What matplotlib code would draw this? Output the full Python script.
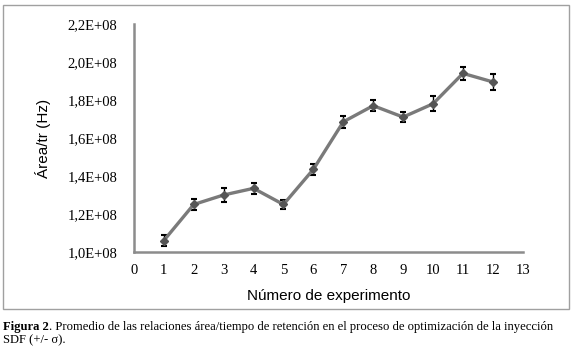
import matplotlib
matplotlib.use("Agg")
import matplotlib.pyplot as plt
from matplotlib.patches import Rectangle

experiments = [1, 2, 3, 4, 5, 6, 7, 8, 9, 10, 11, 12]
area_tr = [1.06e8, 1.25e8, 1.30e8, 1.335e8, 1.25e8, 1.435e8, 1.685e8, 1.77e8, 1.71e8, 1.78e8, 1.94e8, 1.895e8]
sigma = [0.03e8, 0.03e8, 0.035e8, 0.03e8, 0.025e8, 0.03e8, 0.03e8, 0.03e8, 0.025e8, 0.04e8, 0.035e8, 0.04e8]
y_ticks = [1.0e8, 1.2e8, 1.4e8, 1.6e8, 1.8e8, 2.0e8, 2.2e8]
y_tick_labels = ["1,0E+08", "1,2E+08", "1,4E+08", "1,6E+08", "1,8E+08", "2,0E+08", "2,2E+08"]
x_ticks = list(range(0, 14))

fig = plt.figure(figsize=(5.72, 3.46), dpi=100)
ax = fig.add_axes([0.234, 0.2717, 0.680, 0.659])

ax.errorbar(experiments, area_tr, yerr=sigma, color="#7a7a7a", lw=2.4,
            marker="D", markersize=4.5, markerfacecolor="#555555", markeredgecolor="#555555",
            ecolor="black", elinewidth=1.0, capsize=2.5, capthick=1.5, zorder=3)

ax.set_xlim(0, 13)
ax.set_ylim(1.0e8, 2.2e8)
ax.set_xticks(x_ticks)
ax.set_xticklabels([str(v) for v in x_ticks], fontfamily="Liberation Serif", fontsize=10.5)
ax.set_yticks(y_ticks)
ax.set_yticklabels(y_tick_labels, fontfamily="Liberation Serif", fontsize=10.5)
ax.tick_params(length=0, pad=9)
ax.tick_params(axis="y", pad=12)
for s in ["top", "right"]:
    ax.spines[s].set_visible(False)
for s in ["left", "bottom"]:
    ax.spines[s].set_color("#8c8c8c")
    ax.spines[s].set_linewidth(1.8)

ax.set_xlabel("Número de experimento", fontfamily="Liberation Sans", fontsize=11, labelpad=8)
ax.set_ylabel("Área/tr (Hz)", fontfamily="Liberation Sans", fontsize=11, labelpad=12)

# frame around chart
fig.patches.append(Rectangle((3/572, 1 - 309/346), 566/572, 304/346, transform=fig.transFigure,
                             fill=False, edgecolor="#a0a0a0", lw=1.0))

t1 = fig.text(3/572, 1 - 330/346, "Figura 2", fontfamily="Liberation Serif",
              fontweight="bold", fontsize=9.1, va="baseline", ha="left")
ax.annotate(". Promedio de las relaciones área/tiempo de retención en el proceso de optimización de la inyección",
            xy=(1, 0), xycoords=t1, va="bottom", ha="left",
            fontfamily="Liberation Serif", fontsize=9.1, annotation_clip=False)
fig.text(3/572, 1 - 343/346, "SDF (+/- σ).", fontfamily="Liberation Serif",
         fontsize=9.1, va="baseline", ha="left")

fig.savefig("out.png", dpi=100)
